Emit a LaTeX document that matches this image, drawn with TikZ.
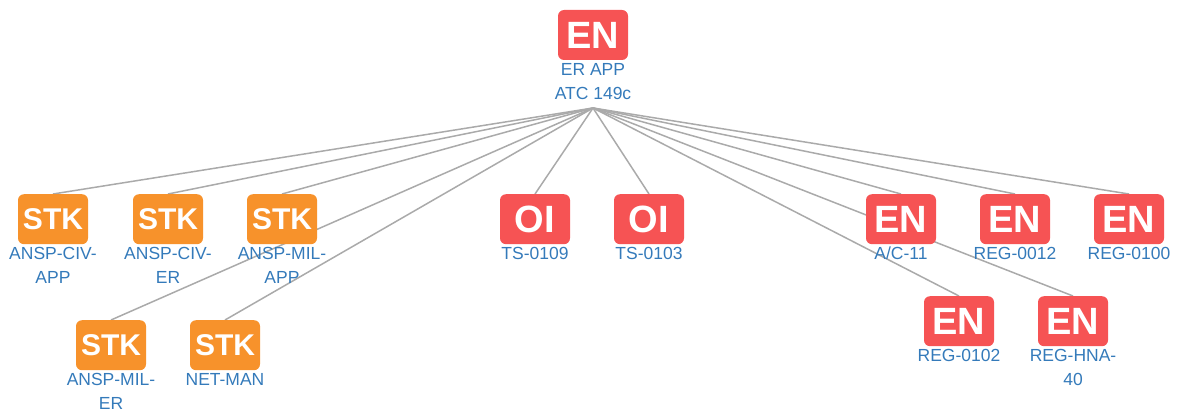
\documentclass[tikz,border=0pt]{standalone}
\usepackage{fontspec}
\setmainfont{Liberation Sans}
\definecolor{enred}{RGB}{246,83,84}
\definecolor{stkorange}{RGB}{247,146,43}
\definecolor{lblblue}{RGB}{52,122,186}
\definecolor{edgegray}{RGB}{170,170,170}
\tikzset{
  box/.style={rounded corners=6pt, minimum width=70pt, minimum height=50pt, inner sep=0pt, text=white, font=\bfseries\fontsize{38}{38}\selectfont},
  enbox/.style={box, fill=enred},
  stkbox/.style={box, fill=stkorange, font=\bfseries\fontsize{30}{30}\selectfont},
  lbl/.style={anchor=north, inner sep=0pt, align=center, text=lblblue, font=\fontsize{17.5}{24}\selectfont},
  edge/.style={draw=edgegray, line width=1.5pt}
}
\begin{document}
\begin{tikzpicture}[x=1pt,y=-1pt]
\useasboundingbox (0,0) rectangle (1177,412);
\coordinate (hub) at (593,108);
% edges (drawn first, behind)
\coordinate (p1) at (53,194);
\coordinate (p2) at (168,194);
\coordinate (p3) at (282,194);
\coordinate (p4) at (111,320);
\coordinate (p5) at (225,320);
\coordinate (p6) at (535,194);
\coordinate (p7) at (649,194);
\coordinate (p8) at (901,194);
\coordinate (p9) at (1015,194);
\coordinate (p10) at (1129,194);
\coordinate (p11) at (959,296);
\coordinate (p12) at (1073,296);
\foreach \i in {1,...,12} {\draw[edge] (hub) -- (p\i);}
% root
\node[enbox] (root) at (593,35) {EN};
\node[lbl] (rl) at (593,63) {ER APP\\ATC 149c};
% stakeholders
\node[stkbox,anchor=north] (n1) at (p1) {STK};
\node[lbl] (l1) at (53,247) {ANSP-CIV-\\APP};
\node[stkbox,anchor=north] (n2) at (p2) {STK};
\node[lbl] (l2) at (168,247) {ANSP-CIV-\\ER};
\node[stkbox,anchor=north] (n3) at (p3) {STK};
\node[lbl] (l3) at (282,247) {ANSP-MIL-\\APP};
\node[stkbox,anchor=north] (n4) at (p4) {STK};
\node[lbl] (l4) at (111,373) {ANSP-MIL-\\ER};
\node[stkbox,anchor=north] (n5) at (p5) {STK};
\node[lbl] (l5) at (225,373) {NET-MAN};
% OI
\node[enbox,anchor=north] (n6) at (p6) {OI};
\node[lbl] (l6) at (535,247) {TS-0109};
\node[enbox,anchor=north] (n7) at (p7) {OI};
\node[lbl] (l7) at (649,247) {TS-0103};
% EN
\node[enbox,anchor=north] (n8) at (p8) {EN};
\node[lbl] (l8) at (901,247) {A/C-11};
\node[enbox,anchor=north] (n9) at (p9) {EN};
\node[lbl] (l9) at (1015,247) {REG-0012};
\node[enbox,anchor=north] (n10) at (p10) {EN};
\node[lbl] (l10) at (1129,247) {REG-0100};
\node[enbox,anchor=north] (n11) at (p11) {EN};
\node[lbl] (l11) at (959,349) {REG-0102};
\node[enbox,anchor=north] (n12) at (p12) {EN};
\node[lbl] (l12) at (1073,349) {REG-HNA-\\40};
\end{tikzpicture}
\end{document}
